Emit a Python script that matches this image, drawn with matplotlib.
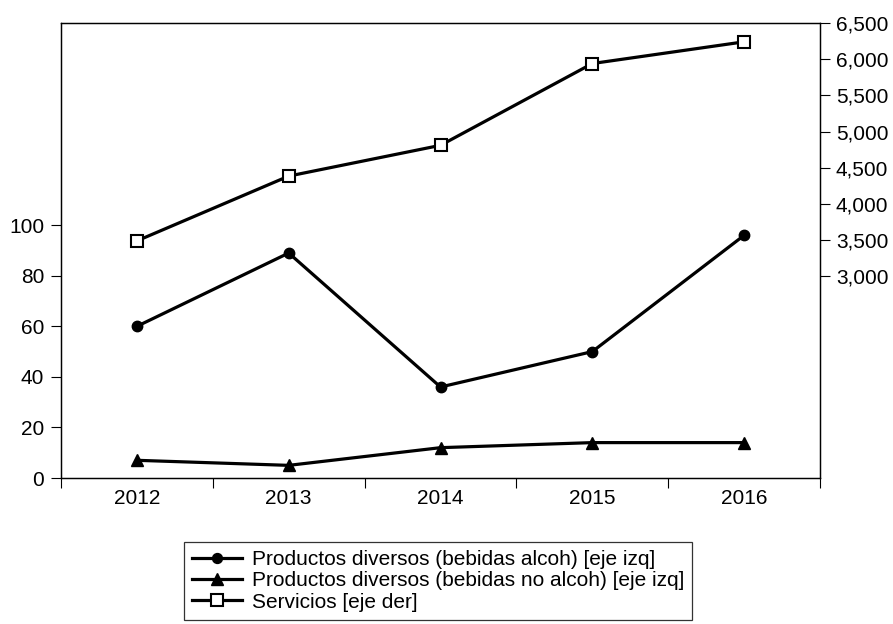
import matplotlib.pyplot as plt
from matplotlib.ticker import FuncFormatter

plt.rcParams['font.family'] = ['Liberation Sans', 'DejaVu Sans']

# datos
years = [2012, 2013, 2014, 2015, 2016]
alcoh = [60, 89, 36, 50, 96]          # eje izq
no_alcoh = [7, 5, 12, 14, 14]         # eje izq
servicios = [3490, 4385, 4810, 5940, 6240]  # eje der
left_ticks = [0, 20, 40, 60, 80, 100]
right_ticks = [3000, 3500, 4000, 4500, 5000, 5500, 6000, 6500]
labels = ['Productos diversos (bebidas alcoh) [eje izq]',
          'Productos diversos (bebidas no alcoh) [eje izq]',
          'Servicios [eje der]']

fs = 15

fig = plt.figure(figsize=(8.93, 6.24), dpi=100)
ax = fig.add_axes([61 / 893, 1 - 478 / 624, (820 - 61) / 893, (478 - 23) / 624])
ax2 = ax.twinx()

l1, = ax.plot(years, alcoh, color='black', lw=2.3, marker='o', ms=7.5)
l2, = ax.plot(years, no_alcoh, color='black', lw=2.3, marker='^', ms=9)
l3, = ax2.plot(years, servicios, color='black', lw=2.3, marker='s', ms=9,
               mfc='white', mec='black', mew=1.5)

ax.set_xlim(2011.5, 2016.5)
ax.set_ylim(0, 180)
ax2.set_ylim(214, 6500)

# ticks del eje x en los limites de cada periodo, etiquetas al centro
ax.set_xticks([y - 0.5 for y in years] + [years[-1] + 0.5])
ax.set_xticklabels([])
ax.set_xticks(years, minor=True)
ax.set_xticklabels([str(y) for y in years], minor=True)
ax.tick_params(axis='x', which='major', direction='out', length=7, width=0.8)
ax.tick_params(axis='x', which='minor', length=0, pad=8, labelsize=fs)

ax.set_yticks(left_ticks)
ax.tick_params(axis='y', direction='out', length=7, width=0.8, pad=5, labelsize=fs)
ax2.set_yticks(right_ticks)
ax2.yaxis.set_major_formatter(FuncFormatter(lambda v, p: f'{int(v):,}'))
ax2.tick_params(axis='y', direction='out', length=7, width=0.8, pad=4.5, labelsize=fs)

for a in (ax, ax2):
    for s in a.spines.values():
        s.set_linewidth(0.9)

leg = fig.legend([l1, l2, l3], labels, loc='upper left',
                 bbox_to_anchor=(184 / 893, 1 - 542 / 624),
                 bbox_transform=fig.transFigure,
                 fontsize=fs, frameon=True, fancybox=False, shadow=False,
                 handlelength=2.4, handletextpad=0.45, labelspacing=0.1,
                 borderpad=0.4, borderaxespad=0, markerscale=0.95)
leg.get_frame().set_edgecolor('black')
leg.get_frame().set_linewidth(0.9)

fig.savefig('out.png', dpi=100)
